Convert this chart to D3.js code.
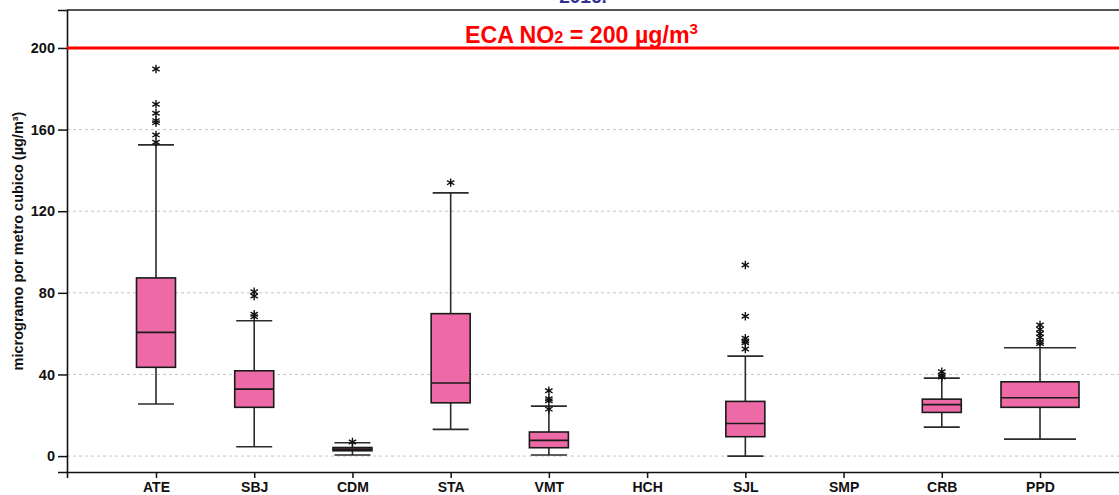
<!DOCTYPE html>
<html>
<head>
<meta charset="utf-8">
<script src="https://cdn.jsdelivr.net/npm/d3@7"></script>
<style>
  html, body { margin: 0; padding: 0; background: #fff; }
  svg { display: block; font-family: "Liberation Sans", Arial, sans-serif; }
</style>
</head>
<body>
<svg id="chart" width="1119" height="495"></svg>
<script>
// ---- data ----
const categories = ["ATE","SBJ","CDM","STA","VMT","HCH","SJL","SMP","CRB","PPD"];
const whiskerLow  = [25.5, 4.6, 0.5, 13.1, 0.5, null, 0.0, null, 14.2, 8.3];
const q1          = [43.5, 23.9, 2.6, 26.1, 4.1, null, 9.5, null, 21.4, 23.9];
const median      = [60.6, 32.8, 3.4, 35.8, 7.7, null, 16.0, null, 25.2, 28.6];
const q3          = [87.3, 41.8, 4.2, 69.8, 11.8, null, 26.8, null, 27.9, 36.4];
const whiskerHigh = [152.5, 66.3, 6.5, 129.0, 24.5, null, 49.0, null, 38.2, 53.1];
const outliers = [
  [189.7, 172.4, 168.0, 164.4, 163.4, 157.4, 153.8],
  [80.5, 78.4, 69.5, 68.3],
  [6.9],
  [134.0],
  [32.0, 28.1, 27.1, 23.0],
  [],
  [93.6, 68.5, 57.7, 56.4, 55.5, 52.5],
  [],
  [41.3, 39.6, 38.8],
  [64.2, 62.1, 60.1, 58.2, 56.0, 55.2]
];
const yTicks = [0, 40, 80, 120, 160, 200];
const limitValue = 200;
const yTitle = "microgramo por metro cubico (µg/m³)";
const topTitle = "2016.";

// ---- layout / style ----
const plot = { left: 67, right: 1129, top: 10, bottom: 472 };
const yDomain = [-7.8, 218.6];
const boxScaleFactor = { PPD: 2 }; // wider box in the original
const pink = "#ee6aa7";

const svg = d3.select("#chart");

const x = d3.scalePoint().domain(categories)
  .range([plot.left, plot.right]).padding(0.906);
const y = d3.scaleLinear().domain(yDomain).range([plot.bottom, plot.top]);

// top title (mostly cropped)
svg.append("text")
  .attr("x", 583).attr("y", 3)
  .attr("text-anchor", "middle")
  .attr("font-size", 19).attr("font-weight", "bold")
  .attr("fill", "#2e3192")
  .text(topTitle);

// gridlines
svg.append("g").selectAll("line")
  .data(yTicks.filter(d => d !== limitValue))
  .join("line")
  .attr("x1", plot.left).attr("x2", plot.right)
  .attr("y1", d => y(d)).attr("y2", d => y(d))
  .attr("stroke", "#c4c4c4").attr("stroke-width", 1)
  .attr("stroke-dasharray", "3,3");

// frame top
svg.append("line")
  .attr("x1", plot.left).attr("x2", plot.right)
  .attr("y1", plot.top).attr("y2", plot.top)
  .attr("stroke", "#555").attr("stroke-width", 2);

// y axis
const yAxis = d3.axisLeft(y).tickValues(yTicks).tickSize(9).tickPadding(3);
const gy = svg.append("g").attr("transform", `translate(${plot.left},0)`).call(yAxis);
gy.select(".domain").attr("stroke", "#111").attr("stroke-width", 1.6);
gy.selectAll(".tick line").attr("stroke", "#111").attr("stroke-width", 1.5);
gy.selectAll(".tick text")
  .attr("font-size", 14.5).attr("font-weight", "bold").attr("fill", "#111")
  .attr("font-family", "Liberation Sans, Arial, sans-serif");

// x axis
const xAxis = d3.axisBottom(x).tickSize(6).tickPadding(4);
const gx = svg.append("g").attr("transform", `translate(0,${plot.bottom})`).call(xAxis);
gx.select(".domain").attr("stroke", "#111").attr("stroke-width", 1.6);
gx.selectAll(".tick line").attr("stroke", "#111").attr("stroke-width", 1.5);
gx.selectAll(".tick text")
  .attr("font-size", 14).attr("font-weight", "bold").attr("fill", "#111")
  .attr("font-family", "Liberation Sans, Arial, sans-serif");

// y title
svg.append("text")
  .attr("transform", `translate(23,${(plot.top + plot.bottom) / 2}) rotate(-90)`)
  .attr("text-anchor", "middle")
  .attr("font-size", 14.5).attr("font-weight", "bold").attr("fill", "#111")
  .text(yTitle);

// boxes
const rows = categories.map((c, i) => ({
  c, lo: whiskerLow[i], q1: q1[i], med: median[i], q3: q3[i], hi: whiskerHigh[i], out: outliers[i]
}));
const g = svg.append("g");
rows.forEach(r => {
  const cx = x(r.c);
  const f = boxScaleFactor[r.c] || 1;
  const bw = 39 * f, cw = 36 * f;
  if (r.med !== null) {
    g.append("line").attr("x1", cx).attr("x2", cx)
      .attr("y1", y(r.hi)).attr("y2", y(r.q3))
      .attr("stroke", "#2a2a2a").attr("stroke-width", 1.6);
    g.append("line").attr("x1", cx).attr("x2", cx)
      .attr("y1", y(r.q1)).attr("y2", y(r.lo))
      .attr("stroke", "#2a2a2a").attr("stroke-width", 1.6);
    [r.hi, r.lo].forEach(v => {
      g.append("line").attr("x1", cx - cw / 2).attr("x2", cx + cw / 2)
        .attr("y1", y(v)).attr("y2", y(v))
        .attr("stroke", "#2a2a2a").attr("stroke-width", 1.6);
    });
    g.append("rect")
      .attr("x", cx - bw / 2).attr("width", bw)
      .attr("y", y(r.q3)).attr("height", y(r.q1) - y(r.q3))
      .attr("fill", pink).attr("stroke", "#1a1a1a").attr("stroke-width", 1.6);
    g.append("line").attr("x1", cx - bw / 2).attr("x2", cx + bw / 2)
      .attr("y1", y(r.med)).attr("y2", y(r.med))
      .attr("stroke", "#1a1a1a").attr("stroke-width", 1.6);
  }
  g.selectAll(null).data(r.out).join("path")
    .attr("d", d3.symbol(d3.symbolAsterisk, 50)())
    .attr("transform", d => `translate(${cx},${y(d)})`)
    .attr("fill", "none").attr("stroke", "#111").attr("stroke-width", 1.4);
});

// limit line
svg.append("line")
  .attr("x1", plot.left).attr("x2", plot.right)
  .attr("y1", y(limitValue)).attr("y2", y(limitValue))
  .attr("stroke", "#ff0000").attr("stroke-width", 3);

const lbl = svg.append("text")
  .attr("x", 465).attr("y", y(limitValue) - 5)
  .attr("font-size", 23).attr("font-weight", "bold").attr("fill", "#ff0000")
  .attr("textLength", 233).attr("lengthAdjust", "spacingAndGlyphs");
lbl.append("tspan").text("ECA NO");
lbl.append("tspan").attr("font-size", 16).text("2");
lbl.append("tspan").text(" = 200 µg/m");
lbl.append("tspan").attr("font-size", 15).attr("dy", -9).text("3");
</script>
</body>
</html>
